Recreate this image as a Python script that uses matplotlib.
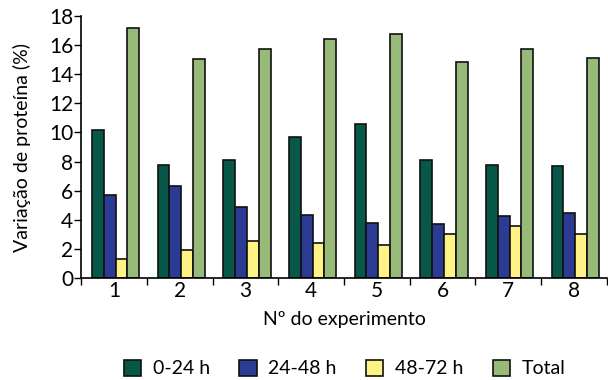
import matplotlib
matplotlib.use('Agg')
import matplotlib.pyplot as plt
from matplotlib.patches import Patch
import numpy as np

experiments = ['1', '2', '3', '4', '5', '6', '7', '8']
series_names = ['0-24 h', '24-48 h', '48-72 h', 'Total']
h0_24 = [10.2, 7.8, 8.1, 9.7, 10.6, 8.1, 7.8, 7.7]
h24_48 = [5.7, 6.3, 4.9, 4.35, 3.8, 3.7, 4.25, 4.45]
h48_72 = [1.3, 1.9, 2.55, 2.4, 2.3, 3.05, 3.6, 3.05]
total = [17.2, 15.05, 15.7, 16.45, 16.75, 14.85, 15.7, 15.1]
colors = ['#08584A', '#2B3A93', '#FFF385', '#98BA78']

plt.rcParams['font.family'] = ['Lato', 'DejaVu Sans']

fig = plt.figure(figsize=(6.08, 3.8), dpi=100)
ax = fig.add_axes([0.134, 0.268, 0.864, 0.69])

x = np.arange(len(experiments))
bw = 0.18
series = [h0_24, h24_48, h48_72, total]
for i, (vals, c) in enumerate(zip(series, colors)):
    ax.bar(x + (i - 1.5) * bw + 0.02, vals, width=bw, color=c,
           edgecolor='#111111', linewidth=1.2, zorder=2)

ax.set_xlim(-0.5, 7.5)
ax.set_ylim(0, 18)
ax.set_yticks(range(0, 19, 2))
ax.set_xticks(x)
ax.set_xticklabels(experiments)
ax.set_xticks(np.arange(-0.5, 8, 1), minor=True)
ax.tick_params(axis='x', which='major', length=0, labelsize=15, pad=2)
ax.tick_params(axis='x', which='minor', length=5, width=1, direction='out')
ax.tick_params(axis='y', length=5, width=1, labelsize=15, pad=1)
for s in ['top', 'right']:
    ax.spines[s].set_visible(False)
for s in ['left', 'bottom']:
    ax.spines[s].set_linewidth(1.2)

ax.set_ylabel('Variação de proteína (%)', fontsize=14, labelpad=13)
ax.set_xlabel('Nº do experimento', fontsize=14, labelpad=7)

handles = [Patch(facecolor=c, edgecolor='#111111', linewidth=1.2) for c in colors]
fig.legend(handles, series_names, loc='center', bbox_to_anchor=(0.567, 0.03),
           ncol=4, frameon=False, fontsize=14, handlelength=0.9, handleheight=0.9,
           columnspacing=1.5, handletextpad=0.6)

fig.savefig('out.png', dpi=100)
